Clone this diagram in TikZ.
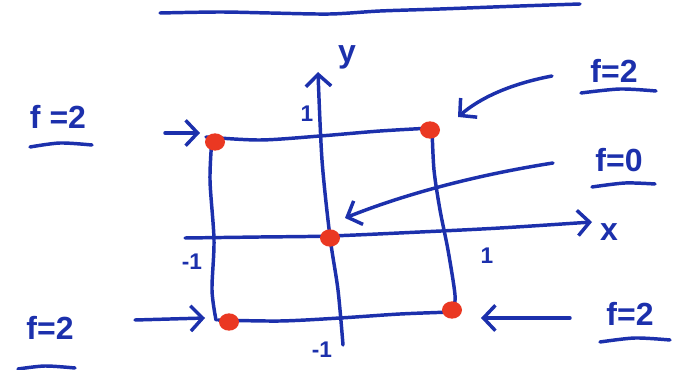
\documentclass[tikz,border=0pt]{standalone}
\usepackage{fontspec}
\setmainfont{Liberation Sans}
\usetikzlibrary{arrows.meta,shapes.geometric}
\definecolor{ink}{RGB}{28,48,172}
\definecolor{reddot}{RGB}{234,56,34}
\tikzset{
  pen/.style={draw=ink,line width=2.6pt,line cap=round,line join=round},
  lbl/.style={text=ink,font=\fontsize{24}{26}\selectfont\bfseries,inner sep=0pt},
  tick/.style={text=ink,font=\fontsize{17}{19}\selectfont\bfseries,inner sep=0pt},
  tip/.style={-{Straight Barb[length=9pt,width=19pt]}},
  rdot/.style={ellipse,fill=reddot,minimum width=15pt,minimum height=13pt,inner sep=0pt},
}
\begin{document}
\begin{tikzpicture}[x=0.75pt,y=-0.75pt]
\useasboundingbox (0,0) rectangle (675,370);
% top rule
\draw[pen] plot[smooth] coordinates {(160,13) (220,12) (270,13) (330,14) (380,11) (440,9) (520,6) (580,4)};
% square
\draw[pen] plot[smooth] coordinates {(206,137) (260,140) (320,136) (380,131) (432,128)};
\draw[pen] plot[smooth] coordinates {(212,138) (210,180) (214,240) (212,290) (216,320)};
\draw[pen] plot[smooth] coordinates {(432,128) (434,170) (440,210) (448,250) (455,295) (453,311)};
\draw[pen] plot[smooth] coordinates {(218,320) (280,321) (340,318) (400,314) (452,312)};
% axes
\draw[pen,tip] plot[smooth] coordinates {(185,238) (260,237) (330,236) (420,232) (500,228) (592,222)};
\draw[pen,tip] plot[smooth] coordinates {(343,345) (338,290) (330,237) (322,160) (318,72)};
\node[lbl] (ylab) at (347,57) {y};
\node[lbl] (xlab) at (609,232) {x};
% ticks
\node[tick] (t1) at (307,114) {1};
\node[tick] (t2) at (192,262) {-1};
\node[tick] (t3) at (487,256) {1};
\node[tick] (t4) at (322,350) {-1};
% dots
\node[rdot] (d1) at (215,142) {};
\node[rdot] (d2) at (430,130) {};
\node[rdot] (d0) at (330,238) {};
\node[rdot] (d3) at (229,322) {};
\node[rdot] (d4) at (452,310) {};
% labels
\node[lbl] (L1) at (58,117) {f =2};
\node[lbl] (L2) at (614,71) {f=2};
\node[lbl] (L3) at (619,160) {f=0};
\node[lbl] (L4) at (50,328) {f=2};
\node[lbl] (L5) at (630,314) {f=2};
% underlines
\draw[pen] plot[smooth] coordinates {(30,147) (60,143) (92,145)};
\draw[pen] plot[smooth] coordinates {(581,93) (620,89) (656,91)};
\draw[pen] plot[smooth] coordinates {(592,187) (625,183) (655,184)};
\draw[pen] plot[smooth] coordinates {(18,369) (45,366) (75,368)};
\draw[pen] plot[smooth] coordinates {(600,342) (635,338) (670,340)};
% arrows
\coordinate (a1s) at (165,133); \coordinate (a1e) at (200,133);
\coordinate (a2s) at (552,76);  \coordinate (a2e) at (458,117);
\coordinate (a3s) at (553,163); \coordinate (a3e) at (345,218);
\coordinate (a4s) at (135,320); \coordinate (a4e) at (205,318);
\coordinate (a5s) at (570,318); \coordinate (a5e) at (481,318);
\draw[pen,tip] (a1s) -- (a1e);
\draw[pen,tip] (a2s) .. controls (510,84) and (480,98) .. (a2e);
\draw[pen,tip] (a3s) .. controls (470,176) and (400,196) .. (a3e);
\draw[pen,tip] (a4s) -- (a4e);
\draw[pen,tip] (a5s) -- (a5e);
\end{tikzpicture}
\end{document}
